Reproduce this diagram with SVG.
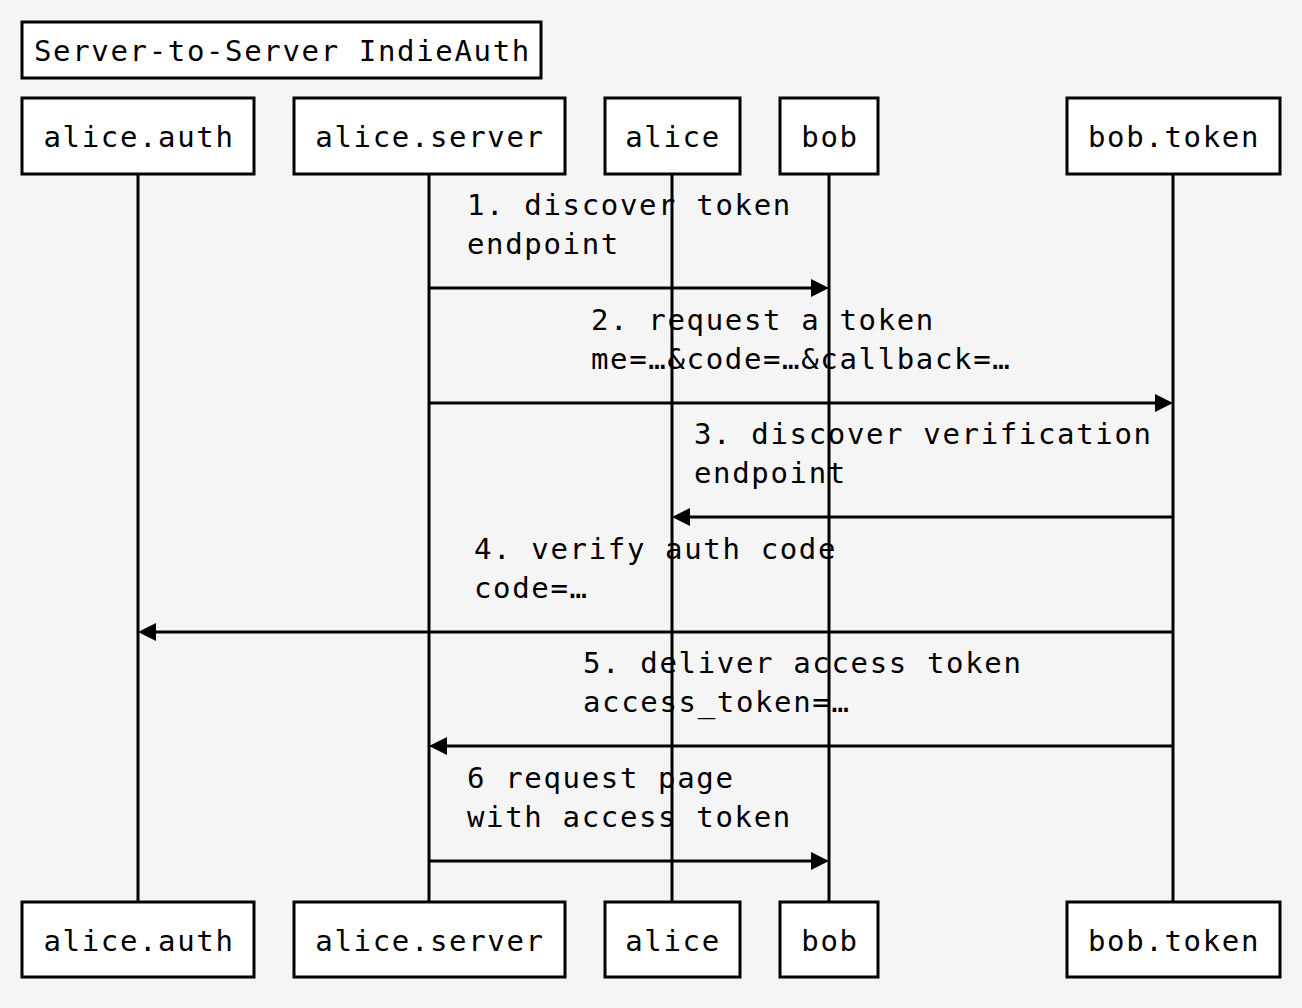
<svg xmlns="http://www.w3.org/2000/svg" width="1302" height="1008" viewBox="0 0 1302 1008">
<style>
text{font-family:"DejaVu Sans Mono","Liberation Mono",monospace;font-size:29px;letter-spacing:1.65px;fill:#000}
.box{fill:#fff;stroke:#000;stroke-width:3}
.life{stroke:#000;stroke-width:3}
.msg{stroke:#000;stroke-width:3;fill:none;marker-end:url(#ah)}
.c{text-anchor:middle}
</style>
<defs>
<marker id="ah" markerUnits="userSpaceOnUse" markerWidth="18" markerHeight="18" refX="0" refY="9" orient="auto" overflow="visible">
<path d="M0,0 L18,9 L0,18 Z" fill="#000"/>
</marker>
</defs>
<rect width="1302" height="1008" fill="#f5f5f5"/>
<g id="title">
<rect class="box" x="22" y="22" width="519" height="56"/>
<text x="34" y="61">Server-to-Server IndieAuth</text>
</g>
<g id="lifelines">
<line class="life" x1="138" y1="174" x2="138" y2="902"/>
<line class="life" x1="429" y1="174" x2="429" y2="902"/>
<line class="life" x1="672" y1="174" x2="672" y2="902"/>
<line class="life" x1="829" y1="174" x2="829" y2="902"/>
<line class="life" x1="1173" y1="174" x2="1173" y2="902"/>
</g>
<g id="alice-auth">
<rect class="box" x="22" y="98" width="232" height="76"/>
<text class="c" x="139" y="147">alice.auth</text>
<rect class="box" x="22" y="902" width="232" height="75"/>
<text class="c" x="139" y="951">alice.auth</text>
</g>
<g id="alice-server">
<rect class="box" x="294" y="98" width="271" height="76"/>
<text class="c" x="430" y="147">alice.server</text>
<rect class="box" x="294" y="902" width="271" height="75"/>
<text class="c" x="430" y="951">alice.server</text>
</g>
<g id="alice">
<rect class="box" x="605" y="98" width="135" height="76"/>
<text class="c" x="673" y="147">alice</text>
<rect class="box" x="605" y="902" width="135" height="75"/>
<text class="c" x="673" y="951">alice</text>
</g>
<g id="bob">
<rect class="box" x="780" y="98" width="98" height="76"/>
<text class="c" x="830" y="147">bob</text>
<rect class="box" x="780" y="902" width="98" height="75"/>
<text class="c" x="830" y="951">bob</text>
</g>
<g id="bob-token">
<rect class="box" x="1067" y="98" width="213" height="76"/>
<text class="c" x="1174" y="147">bob.token</text>
<rect class="box" x="1067" y="902" width="213" height="75"/>
<text class="c" x="1174" y="951">bob.token</text>
</g>
<g id="connectors">
<line class="msg" x1="429" y1="288" x2="811" y2="288"/>
<line class="msg" x1="429" y1="403" x2="1155" y2="403"/>
<line class="msg" x1="1173" y1="517" x2="690" y2="517"/>
<line class="msg" x1="1173" y1="632" x2="156" y2="632"/>
<line class="msg" x1="1173" y1="746" x2="447" y2="746"/>
<line class="msg" x1="429" y1="861" x2="811" y2="861"/>
</g>
<g id="labels">
<text x="467" y="215">1. discover token</text>
<text x="467" y="254">endpoint</text>
<text x="591" y="330">2. request a token</text>
<text x="591" y="369">me=…&amp;code=…&amp;callback=…</text>
<text x="694" y="444">3. discover verification</text>
<text x="694" y="483">endpoint</text>
<text x="474" y="559">4. verify auth code</text>
<text x="474" y="598">code=…</text>
<text x="583" y="673">5. deliver access token</text>
<text x="583" y="712">access_token=…</text>
<text x="467" y="788">6 request page</text>
<text x="467" y="827">with access token</text>
</g>
</svg>
